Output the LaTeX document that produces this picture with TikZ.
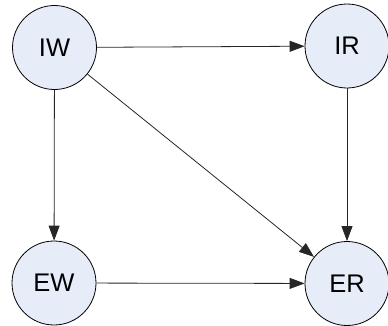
\documentclass[tikz,border=0pt]{standalone}
\usepackage{fontspec}
\setmainfont{Liberation Sans}
\usetikzlibrary{arrows.meta}
\definecolor{nodefill}{HTML}{E6ECF8}
\tikzset{
  state/.style={circle, draw=black, line width=0.8pt, fill=nodefill,
    minimum size=84pt, inner sep=0pt, font=\fontsize{25.5}{25.5}\selectfont},
  link/.style={draw=black!85, line width=0.8pt,
    -{Triangle[length=15pt,width=11pt]}}
}
\begin{document}
\begin{tikzpicture}[x=1pt,y=-1pt]
\useasboundingbox (0,0) rectangle (388,325);
\node[state] (IW) at (54.5,47.5) {IW};
\node[state] (IR) at (347,46) {IR};
\node[state] (EW) at (54,283) {EW};
\node[state] (ER) at (347,283.5) {ER};
\draw[link] (IW) -- (IR);
\draw[link] (IW) -- (EW);
\draw[link] (IW) -- (ER);
\draw[link] (IR) -- (ER);
\draw[link] (EW) -- (ER);
\end{tikzpicture}
\end{document}
